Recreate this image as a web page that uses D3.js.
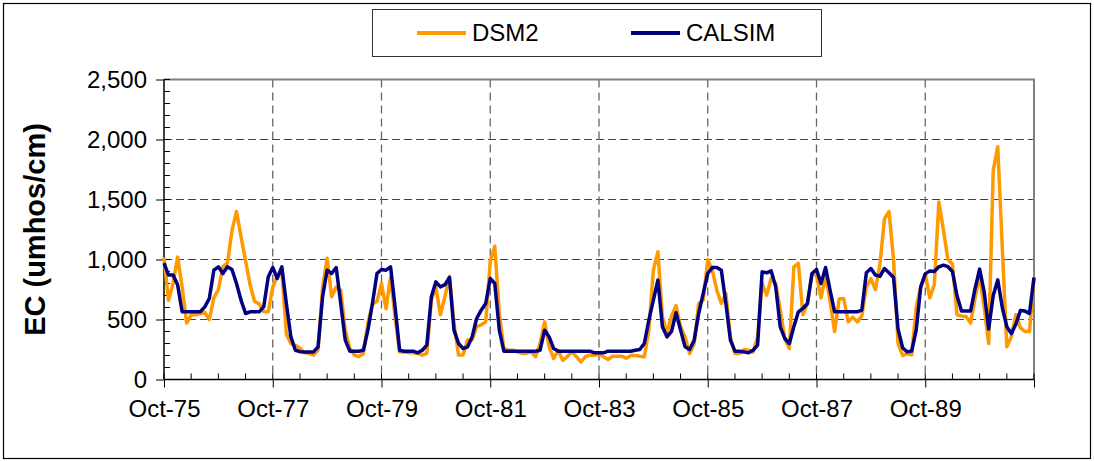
<!DOCTYPE html>
<html>
<head>
<meta charset="utf-8">
<script src="https://cdn.jsdelivr.net/npm/d3@7"></script>
<style>
  body { margin: 0; background: #fff; }
  svg { display: block; font-family: "Liberation Sans", Arial, sans-serif; }
</style>
</head>
<body>
<svg class="chart" width="1094" height="461"></svg>
<script>
// monthly EC, Oct-75 .. Oct-91
var dsm2 = [
  1020, 660, 800, 1020, 770, 470, 540, 540, 550, 560, 500, 680,
  750, 940, 970, 1240, 1400, 1190, 990, 790, 650, 630, 565, 565,
  770, 860, 910, 380, 300, 285, 260, 225, 217, 203, 245, 770,
  1010, 690, 770, 745, 410, 260, 205, 190, 217, 470, 630, 650,
  800, 590, 855, 520, 230, 230, 222, 222, 217, 203, 217, 660,
  770, 540, 690, 860, 470, 205, 205, 330, 330, 440, 455, 480,
  985, 1110, 550, 258, 244, 244, 230, 217, 217, 230, 190, 300,
  480, 272, 175, 244, 160, 190, 230, 190, 147, 190, 203, 203,
  211, 189, 167, 194, 194, 194, 178, 200, 200, 194, 189, 411,
  911, 1064, 522, 383, 530, 615, 439, 355, 217, 300, 633, 661,
  1000, 911, 744, 633, 717, 355, 217, 217, 250, 244, 230, 355,
  800, 703, 842, 800, 578, 342, 258, 939, 967, 540, 633, 880,
  870, 680, 870, 650, 400, 670, 675, 480, 520, 480, 530, 770,
  840, 750, 960, 1340, 1400, 1000, 300, 200, 215, 205, 600, 770,
  880, 680, 790, 1480, 1250, 1000, 960, 540, 530, 525, 470, 680,
  870, 600, 300, 1744, 1939, 1100, 272, 356, 540, 430, 400, 400,
  850
];

var calsim = [
  970, 870, 870, 790, 565, 565, 565, 565, 565, 605, 675, 911,
  939, 883, 939, 917, 800, 661, 550, 564, 564, 564, 605, 855,
  933, 842, 939, 633, 355, 244, 232, 230, 230, 230, 272, 689,
  911, 883, 933, 633, 328, 236, 236, 236, 244, 411, 633, 883,
  917, 911, 939, 605, 244, 236, 236, 236, 222, 244, 286, 689,
  814, 772, 790, 850, 411, 300, 258, 272, 355, 508, 578, 633,
  842, 800, 411, 236, 236, 236, 236, 236, 236, 236, 236, 244,
  411, 355, 258, 236, 236, 236, 236, 236, 236, 236, 236, 222,
  222, 222, 236, 236, 236, 236, 236, 236, 244, 250, 300, 494,
  661, 828, 439, 355, 400, 556, 411, 272, 250, 328, 550, 717,
  883, 933, 933, 911, 633, 328, 236, 236, 230, 222, 244, 286,
  897, 889, 905, 772, 439, 342, 300, 439, 564, 592, 633, 883,
  917, 800, 933, 744, 564, 564, 564, 564, 564, 564, 578, 890,
  925, 870, 860, 925, 890, 850, 420, 265, 230, 237, 411, 772,
  880, 905, 900, 939, 953, 940, 900, 700, 570, 570, 570, 760,
  920, 730, 420, 700, 830, 600, 440, 383, 460, 575, 570, 550,
  850
];

var xLabels = ["Oct-75", "Oct-77", "Oct-79", "Oct-81", "Oct-83", "Oct-85", "Oct-87", "Oct-89"];
var yTicks = [0, 500, 1000, 1500, 2000, 2500];
var series = ["DSM2", "CALSIM"];

var margin = {top: 79.5, left: 164},
    width = 870,
    height = 300;

var x = d3.scaleLinear()
    .domain([0, dsm2.length - 1])
    .range([0, width]);

var y = d3.scaleLinear()
    .domain([0, 2500])
    .range([height, 0]);

var z = d3.scaleOrdinal()
    .domain(series)
    .range(["#ff9900", "#000080"]);

var svg = d3.select(".chart");

// outer frame
svg.append("rect")
    .attr("x", 3.5)
    .attr("y", 3.5)
    .attr("width", 1087)
    .attr("height", 455)
    .attr("fill", "none")
    .attr("stroke", "#000")
    .attr("stroke-width", 1.2);

var chart = svg.append("g")
    .attr("transform", "translate(" + margin.left + "," + margin.top + ")");

// grid
chart.append("g")
    .selectAll("line")
    .data(yTicks.slice(1, -1))
    .enter().append("line")
      .attr("x1", 0)
      .attr("x2", width)
      .attr("y1", function(d) { return y(d); })
      .attr("y2", function(d) { return y(d); })
      .attr("stroke", "#444")
      .attr("stroke-dasharray", "8,4");

chart.append("g")
    .selectAll("line")
    .data(xLabels.slice(1))
    .enter().append("line")
      .attr("x1", function(d, i) { return x((i + 1) * 24); })
      .attr("x2", function(d, i) { return x((i + 1) * 24); })
      .attr("y1", 0)
      .attr("y2", height)
      .attr("stroke", "#666")
      .attr("stroke-width", 1.3)
      .attr("stroke-dasharray", "8,5");

// plot border (top, right)
chart.append("path")
    .attr("d", "M0,0H" + width + "V" + height)
    .attr("fill", "none")
    .attr("stroke", "#808080")
    .attr("stroke-width", 2);

// y axis
var yAxis = d3.axisLeft(y)
    .tickValues(yTicks)
    .tickSize(8)
    .tickPadding(9)
    .tickFormat(d3.format(","));

chart.append("g")
    .attr("class", "y axis")
    .call(yAxis)
    .call(function(g) {
      g.select(".domain").remove();
      g.selectAll("text")
        .style("font-size", "24px")
        .style("font-family", "Liberation Sans, Arial, sans-serif")
        .attr("fill", "#000");
    });

chart.append("g")
    .selectAll("line")
    .data(d3.range(0, 2501, 100))
    .enter().append("line")
      .attr("x1", 0)
      .attr("x2", 6)
      .attr("y1", function(d) { return y(d); })
      .attr("y2", function(d) { return y(d); })
      .attr("stroke", "#000");

// x axis
var xAxis = d3.axisBottom(x)
    .tickValues(d3.range(0, dsm2.length, 24))
    .tickSize(8)
    .tickPadding(12)
    .tickFormat(function(d, i) { return xLabels[i] || ""; });

chart.append("g")
    .attr("class", "x axis")
    .attr("transform", "translate(0," + height + ")")
    .call(xAxis)
    .call(function(g) {
      g.select(".domain").remove();
      g.selectAll("text")
        .style("font-size", "24px")
        .style("font-family", "Liberation Sans, Arial, sans-serif")
        .attr("fill", "#000");
    });

chart.append("g")
    .selectAll("line")
    .data(d3.range(0, dsm2.length, 6))
    .enter().append("line")
      .attr("x1", function(d) { return x(d); })
      .attr("x2", function(d) { return x(d); })
      .attr("y1", height)
      .attr("y2", height - 6)
      .attr("stroke", "#000");

chart.append("line")
    .attr("x1", 0).attr("x2", width)
    .attr("y1", height).attr("y2", height)
    .attr("stroke", "#000")
    .attr("stroke-width", 1.5);

chart.append("line")
    .attr("x1", 0).attr("x2", 0)
    .attr("y1", 0).attr("y2", height)
    .attr("stroke", "#000")
    .attr("stroke-width", 1.5);

// lines
var line = d3.line()
    .x(function(d, i) { return x(i); })
    .y(function(d) { return y(d); });

chart.selectAll(".serie")
    .data([dsm2, calsim])
    .enter().append("path")
      .attr("class", "serie")
      .attr("d", line)
      .attr("fill", "none")
      .attr("stroke", function(d, i) { return z(series[i]); })
      .attr("stroke-width", 3.5)
      .attr("stroke-linejoin", "round");

// y title
svg.append("text")
    .attr("transform", "translate(45," + (margin.top + height / 2) + ") rotate(-90)")
    .attr("text-anchor", "middle")
    .style("font-size", "29px")
    .style("font-weight", "bold")
    .text("EC (umhos/cm)");

// legend
svg.append("rect")
    .attr("x", 372.5)
    .attr("y", 9.5)
    .attr("width", 449)
    .attr("height", 47)
    .attr("fill", "#fff")
    .attr("stroke", "#333");

var legend = svg.selectAll(".legend")
    .data(series)
    .enter().append("g")
      .attr("class", "legend")
      .attr("transform", function(d, i) { return "translate(" + (417 + i * 214) + ",33)"; });

legend.append("line")
    .attr("x1", 0)
    .attr("x2", 49)
    .attr("stroke", z)
    .attr("stroke-width", 4);

legend.append("text")
    .attr("x", 55)
    .attr("dy", "0.35em")
    .style("font-size", "24px")
    .text(function(d) { return d; });
</script>
</body>
</html>
